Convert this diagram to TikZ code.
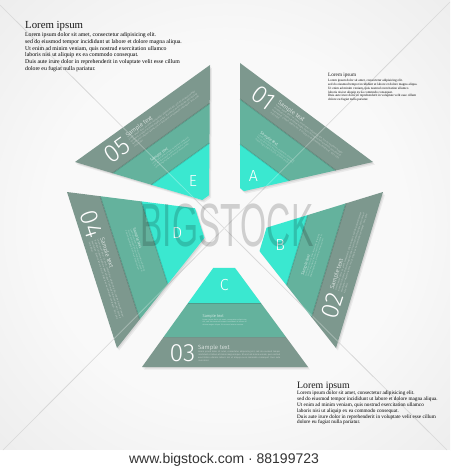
\documentclass[tikz,border=0pt]{standalone}
\usepackage{fontspec}
\setmainfont{Liberation Serif}
\newfontfamily\thinsans{Fira Sans Light}
\newfontfamily\urlsans{Liberation Sans}
\usetikzlibrary{calc}

\definecolor{outerband}{RGB}{125,152,142}
\definecolor{middleband}{RGB}{100,178,157}
\definecolor{innerband}{RGB}{58,232,208}
\definecolor{paper}{RGB}{249,249,249}
\definecolor{paperedge}{RGB}{210,210,210}

\pgfdeclareradialshading{backdrop}{\pgfpoint{0bp}{0bp}}{%
        color(0bp)=(paper); color(20bp)=(paper); color(72bp)=(paperedge)}

\newcommand{\loremlines}{Lorem ipsum dolor sit amet, consectetur adipisicing elit.\\
        sed do eiusmod tempor incididunt ut labore et dolore magna aliqua.\\
        Ut enim ad minim veniam, quis nostrud exercitation ullamco\\
        laboris nisi ut aliquip ex ea commodo consequat.\\
        Duis aute irure dolor in reprehenderit in voluptate velit esse cillum\\
        dolore eu fugiat nulla pariatur.}
\newcommand{\fineprint}{Lorem ipsum dolor sit amet, consectetur adipisicing elit, sed do eiusmod tempor incididunt ut labore et dolore magna aliqua. Ut enim ad minim veniam, quis nostrud exercitation ullamco laboris nisi ut aliquip ex ea commodo consequat. Duis aute irure dolor.}
\newcommand{\shortprint}{Lorem ipsum dolor sit amet, consectetur adipisicing elit, sed do eiusmod tempor incididunt ut labore et dolore magna aliqua. Ut enim ad minim veniam.}

\tikzset{%
        numgroup/.style={
                text=white,
                inner sep=0pt
            },
        midgroup/.style={
                text=white,
                inner sep=0pt
            },
        lettermark/.style={
                text=white,
                inner sep=0pt,
                font=\thinsans\fontsize{16}{16}\selectfont
            },
        bandline/.style={
                black,
                opacity=0.15,
                line width=1.2pt
            },
        crease/.style={
                black!22,
                line width=0.6pt
            },
        heading/.style={
                anchor=base west,
                inner sep=0pt,
                text=black!90
            },
        bodytext/.style={
                anchor=north west,
                inner sep=0pt,
                align=left
            },
        watermark/.style={
                inner sep=0pt,
                text=black,
                text opacity=0.17,
                xscale=0.55,
                font=\urlsans\fontsize{61}{61}\selectfont
            }
    }

% #1 number, #2 letter, #3 apex, #4 first corner, #5 second corner,
% #6 inner cut, #7 inner/middle, #8 middle/outer, #9 text angle
\newcommand{\facet}[9]{%
        \coordinate (o#1) at #3;
        \coordinate (p#1) at #4;
        \coordinate (q#1) at #5;
        \fill[black, opacity=0.06, transform canvas={shift={(2pt,-2.6pt)}}]
            ($(o#1)!#6!(p#1)$) -- (p#1) -- (q#1) -- ($(o#1)!#6!(q#1)$) -- cycle;
        \fill[black, opacity=0.08, transform canvas={shift={(1pt,-1.3pt)}}]
            ($(o#1)!#6!(p#1)$) -- (p#1) -- (q#1) -- ($(o#1)!#6!(q#1)$) -- cycle;
        \fill[outerband] ($(o#1)!#8!(p#1)$) -- (p#1) -- (q#1) -- ($(o#1)!#8!(q#1)$) -- cycle;
        \fill[middleband] ($(o#1)!#7!(p#1)$) -- ($(o#1)!#8!(p#1)$) -- ($(o#1)!#8!(q#1)$) -- ($(o#1)!#7!(q#1)$) -- cycle;
        \fill[innerband] ($(o#1)!#6!(p#1)$) -- ($(o#1)!#7!(p#1)$) -- ($(o#1)!#7!(q#1)$) -- ($(o#1)!#6!(q#1)$) -- cycle;
        \draw[bandline] ($(o#1)!#7!(p#1)$) -- ($(o#1)!#7!(q#1)$);
        \draw[bandline] ($(o#1)!#8!(p#1)$) -- ($(o#1)!#8!(q#1)$);
        \node[numgroup, rotate=#9] (n#1) at ($($(o#1)!{(#8+1)/2+0.01}!(p#1)$)!0.5!($(o#1)!{(#8+1)/2+0.01}!(q#1)$)$)
            {{\thinsans\fontsize{25}{25}\selectfont #1}\hspace{3pt}\parbox[b]{82pt}{{\thinsans\fontsize{6}{7}\selectfont Sample text\par}\thinsans\fontsize{2.2}{3}\selectfont\color{white!85!outerband}\fineprint}};
        \node[midgroup, rotate=#9] (m#1) at ($($(o#1)!{(#7+#8)/2}!(p#1)$)!0.5!($(o#1)!{(#7+#8)/2}!(q#1)$)$)
            {\parbox{44pt}{{\thinsans\fontsize{4}{5}\selectfont Sample text\par}\thinsans\fontsize{1.9}{2.6}\selectfont\color{white!85!middleband}\shortprint}};
        \node[lettermark] (l#1) at ($($(o#1)!{(#6+#7)/2}!(p#1)$)!0.5!($(o#1)!{(#6+#7)/2}!(q#1)$)$) {#2};
    }

\begin{document}
\begin{tikzpicture}[x=1pt, y=-1pt]
    \useasboundingbox (0,0) rectangle (450,470);

    % backdrop:
        \shade[shading=backdrop] (0,0) rectangle (450,450);
        \fill[white] (0,450) rectangle (450,470);
        \coordinate (k1) at (0,5);
        \coordinate (k2) at (447,450);
        \coordinate (k3) at (450,2);
        \coordinate (k4) at (3,450);
        \draw[crease] (k1) -- (k2);
        \draw[crease] (k3) -- (k4);

    % pentagon pieces:
        \facet{01}{A}{(240,192)}{(240,63)}{(373,162)}{0.03}{0.37}{0.72}{-36}
        \facet{02}{B}{(246,234)}{(336,348)}{(383,192)}{0.15}{0.45}{0.73}{72}
        \facet{03}{C}{(224,253)}{(142,367)}{(308,367)}{0.13}{0.44}{0.74}{0}
        \facet{04}{D}{(225,212)}{(67,192)}{(117,348)}{0.19}{0.53}{0.79}{-72}
        \facet{05}{E}{(209,202)}{(75,162)}{(210,65)}{0.05}{0.43}{0.72}{36}

        \draw[white, opacity=0.3, line width=0.8pt] (k1) -- (k2);
        \draw[white, opacity=0.3, line width=0.8pt] (k3) -- (k4);
        \node[watermark] (wm) at (227,225) {BIGSTOCK};

    % captions:
        \node[heading, font=\fontsize{10.8}{12}\selectfont] (h1) at (25,29) {Lorem ipsum};
        \node[bodytext, font=\fontsize{5.8}{6.7}\selectfont] (b1) at (25,32.5) {\loremlines};

        \node[heading, font=\fontsize{5.2}{6}\selectfont] (h2) at (328,77) {Lorem ipsum};
        \node[bodytext, font=\fontsize{3.3}{3.7}\selectfont] (b2) at (328,79.5) {\loremlines};

        \node[heading, font=\fontsize{9.8}{11}\selectfont] (h3) at (297,388) {Lorem ipsum};
        \node[bodytext, font=\fontsize{5.2}{5.8}\selectfont] (b3) at (297,391) {\loremlines};

        \node[inner sep=0pt, text=black!80, font=\urlsans\fontsize{14}{14}\selectfont] (url) at (224,460) {www.bigstock.com · 88199723};
    \end{tikzpicture}
\end{document}
